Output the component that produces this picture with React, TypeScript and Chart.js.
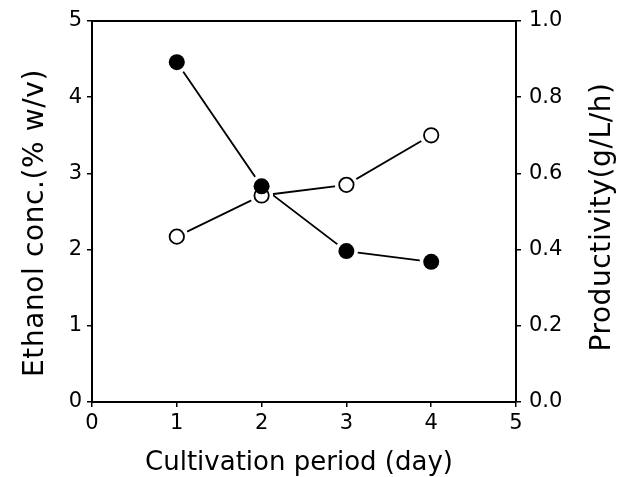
import React, { useEffect, useRef } from "react";
import { Chart, registerables } from "chart.js";

Chart.register(...registerables);

const days = [1, 2, 3, 4];
const ethanolConc = [2.17, 2.71, 2.85, 3.5];
const productivity = [0.892, 0.566, 0.396, 0.368];

const xTitle = "Cultivation period (day)";
const yLeftTitle = "Ethanol conc.(% w/v)";
const yRightTitle = "Productivity(g/L/h)";

const FONT = '"DejaVu Sans", sans-serif';

const titlesPlugin = {
  id: "titlesAndFrame",
  afterDraw(chart: any) {
    const { ctx, chartArea } = chart;
    ctx.save();
    ctx.strokeStyle = "#000";
    ctx.lineWidth = 2;
    ctx.beginPath();
    ctx.moveTo(chartArea.left, chartArea.top);
    ctx.lineTo(chartArea.right, chartArea.top);
    ctx.stroke();

    ctx.fillStyle = "#000";
    ctx.textAlign = "center";
    ctx.textBaseline = "alphabetic";
    ctx.font = `26px ${FONT}`;
    ctx.fillText(xTitle, 299, 470);

    ctx.font = `28px ${FONT}`;
    try { (ctx as any).letterSpacing = "0.6px"; } catch (e) {}
    ctx.save();
    ctx.translate(43, 223);
    ctx.rotate(-Math.PI / 2);
    ctx.fillText(yLeftTitle, 0, 0);
    ctx.restore();

    ctx.save();
    ctx.translate(610, 217);
    ctx.rotate(-Math.PI / 2);
    ctx.fillText(yRightTitle, 0, 0);
    ctx.restore();
    try { (ctx as any).letterSpacing = "0px"; } catch (e) {}
    ctx.restore();
  },
};

export default function App() {
  const ref = useRef<HTMLCanvasElement | null>(null);
  useEffect(() => {
    if (!ref.current) return;
    const toPts = (ys: number[]) => days.map((d, i) => ({ x: d, y: ys[i] }));
    const lineBase = {
      showLine: true,
      pointRadius: 0,
      borderColor: "#000",
      borderWidth: 1.8,
      fill: false,
      tension: 0,
    };
    const halo = {
      showLine: false,
      pointRadius: 11.5,
      pointBackgroundColor: "#fff",
      pointBorderWidth: 0,
      pointBorderColor: "#fff",
    };
    const tickFont = { family: FONT, size: 21 };
    const gridCfg = { drawOnChartArea: false, drawTicks: true, tickLength: 5, color: "#000", lineWidth: 1.5 };
    const borderCfg = { display: true, color: "#000", width: 2 };
    const chart = new Chart(ref.current, {
      type: "scatter",
      data: {
        datasets: [
          { ...lineBase, data: toPts(ethanolConc), yAxisID: "y", order: 5 },
          { ...lineBase, data: toPts(productivity), yAxisID: "y1", order: 5 },
          { ...halo, data: toPts(ethanolConc), yAxisID: "y", order: 4 },
          { ...halo, data: toPts(productivity), yAxisID: "y1", order: 4 },
          {
            data: toPts(ethanolConc),
            yAxisID: "y",
            showLine: false,
            pointRadius: 7.2,
            pointBackgroundColor: "#fff",
            pointBorderColor: "#000",
            pointBorderWidth: 1.8,
            order: 2,
          },
          {
            data: toPts(productivity),
            yAxisID: "y1",
            showLine: false,
            pointRadius: 8,
            pointBackgroundColor: "#000",
            pointBorderColor: "#000",
            pointBorderWidth: 0,
            order: 1,
          },
        ],
      },
      options: {
        responsive: false,
        animation: false,
        devicePixelRatio: 1,
        layout: { padding: { top: 21, left: 0, right: 0, bottom: 0 } },
        plugins: { legend: { display: false }, tooltip: { enabled: false } },
        scales: {
          x: {
            type: "linear",
            min: 0,
            max: 5,
            afterFit: (s: any) => { s.height = 75; },
            ticks: { stepSize: 1, color: "#000", font: tickFont, padding: 4 },
            grid: gridCfg,
            border: borderCfg,
          },
          y: {
            type: "linear",
            position: "left",
            min: 0,
            max: 5,
            afterFit: (s: any) => { s.width = 92; },
            ticks: { stepSize: 1, color: "#000", font: tickFont, padding: 5 },
            grid: gridCfg,
            border: borderCfg,
          },
          y1: {
            type: "linear",
            position: "right",
            min: 0,
            max: 1,
            afterFit: (s: any) => { s.width = 103; },
            ticks: {
              stepSize: 0.2,
              color: "#000",
              font: tickFont,
              padding: 8,
              callback: (v: any) => Number(v).toFixed(1),
            },
            grid: gridCfg,
            border: borderCfg,
          },
        },
      },
      plugins: [titlesPlugin],
    } as any);
    return () => chart.destroy();
  }, []);
  return (
    <div style={{ position: "fixed", left: 0, top: 0, width: 619, height: 477, background: "#fff" }}>
      <canvas ref={ref} width={619} height={477} />
    </div>
  );
}
